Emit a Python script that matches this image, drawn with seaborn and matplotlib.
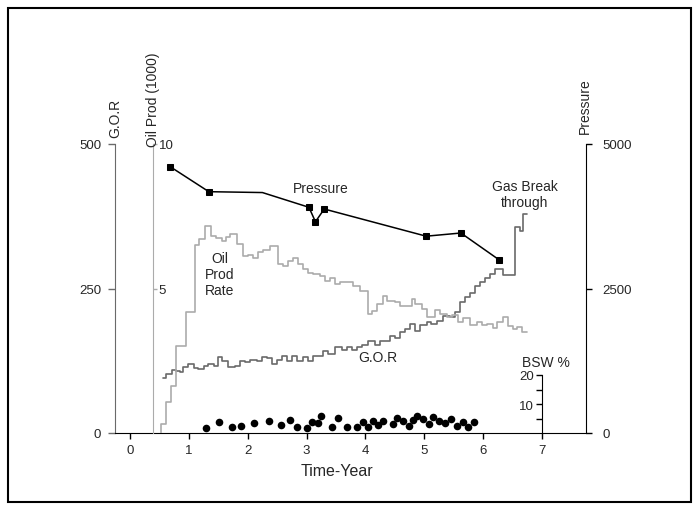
import numpy as np
import pandas as pd
import matplotlib
matplotlib.use("Agg")
import matplotlib.pyplot as plt
from matplotlib.patches import Rectangle
import seaborn as sns

# reservoir pressure (psi)
p_year = [0.68, 1.34, 2.25, 3.04, 3.15, 3.30, 5.03, 5.62, 6.27]
p_val = [4610, 4175, 4160, 3905, 3655, 3875, 3405, 3460, 2995]
p_marked = [0, 1, 3, 4, 5, 6, 7, 8]

# oil production rate (1000), step data
oil_year = [0.53, 0.53, 0.61, 0.70, 0.79, 0.95, 1.11, 1.18, 1.27, 1.37, 1.46, 1.56, 1.63,
            1.70, 1.82, 1.92, 2.01, 2.09, 2.17, 2.26, 2.38, 2.51, 2.60, 2.68, 2.77,
            2.85, 2.94, 3.02, 3.11, 3.23, 3.31, 3.40, 3.48, 3.57, 3.79, 3.90, 4.04,
            4.11, 4.20, 4.30, 4.37, 4.50, 4.58, 4.79, 4.84, 4.96, 5.04, 5.18, 5.26,
            5.38, 5.47, 5.57, 5.66, 5.77, 5.89, 5.98, 6.06, 6.16, 6.23, 6.33, 6.42,
            6.50, 6.58, 6.66, 6.74]
oil_rate = [0.0, 0.3, 1.07, 1.64, 3.0, 4.2, 6.5, 6.7, 7.17, 6.8, 6.74, 6.65, 6.77,
            6.9, 6.54, 6.11, 6.16, 6.05, 6.26, 6.34, 6.47, 5.85, 5.79, 5.96, 6.04,
            5.85, 5.67, 5.54, 5.5, 5.44, 5.27, 5.35, 5.16, 5.23, 5.1, 4.92, 4.12,
            4.23, 4.46, 4.75, 4.58, 4.52, 4.4, 4.62, 4.46, 4.29, 4.0, 4.27, 4.12,
            4.0, 4.08, 3.83, 3.97, 3.74, 3.85, 3.74, 3.77, 3.62, 3.83, 4.0, 3.71,
            3.6, 3.67, 3.48, 3.48]

# gas oil ratio, step data
gor_year = [0.57, 0.62, 0.71, 0.79, 0.85, 0.91, 0.99, 1.08, 1.16, 1.25, 1.33, 1.42,
            1.50, 1.56, 1.61, 1.67, 1.78, 1.87, 1.95, 2.04, 2.15, 2.24, 2.32, 2.41,
            2.49, 2.58, 2.66, 2.75, 2.83, 2.94, 3.03, 3.11, 3.20, 3.28, 3.37, 3.48,
            3.60, 3.68, 3.77, 3.85, 3.94, 4.05, 4.16, 4.25, 4.33, 4.41, 4.50, 4.58,
            4.67, 4.75, 4.84, 4.92, 5.04, 5.12, 5.21, 5.32, 5.43, 5.52, 5.60, 5.69,
            5.77, 5.86, 5.94, 6.03, 6.11, 6.20, 6.34, 6.54, 6.62, 6.68, 6.74]
gor_val = [95, 102, 109, 108, 106, 114, 119, 112, 111, 116, 119, 116,
           131, 125, 125, 114, 116, 125, 122, 126, 125, 131, 130, 119,
           126, 134, 125, 134, 125, 131, 125, 134, 134, 142, 137, 148,
           143, 148, 143, 148, 153, 160, 153, 160, 160, 168, 165, 174,
           180, 189, 177, 186, 192, 189, 194, 203, 201, 209, 226, 235,
           243, 255, 261, 269, 275, 283, 273, 356, 350, 379, 379]

# BSW %
bsw_year = [1.30, 1.51, 1.73, 1.89, 2.10, 2.37, 2.57, 2.72, 2.83, 3.01, 3.09, 3.20,
            3.24, 3.43, 3.54, 3.69, 3.86, 3.96, 4.05, 4.12, 4.22, 4.30, 4.46, 4.54,
            4.64, 4.74, 4.80, 4.88, 4.98, 5.08, 5.15, 5.25, 5.35, 5.45, 5.56, 5.65,
            5.74, 5.85]
bsw_pct = [1.6, 3.7, 2.0, 2.5, 3.3, 4.1, 2.9, 4.5, 2.1, 1.6, 3.8, 3.3,
           5.8, 2.1, 5.2, 2.1, 2.0, 3.7, 2.0, 4.1, 2.8, 4.0, 3.1, 5.1,
           4.0, 2.3, 4.5, 5.8, 4.8, 3.1, 5.6, 4.2, 3.3, 4.8, 2.5, 3.7,
           2.2, 3.9]

W, H = 693, 506
sns.set_style("white")
plt.rcParams['font.family'] = ['Liberation Sans', 'DejaVu Sans']

fig = plt.figure(figsize=(W / 100, H / 100), dpi=100)

def fx(x):
    return x / W

def fy(y):
    return 1 - y / H

ax = fig.add_axes([fx(115), fy(434), (586 - 115) / W, (434 - 145) / H])
ax.set_facecolor("none")
ax2 = ax.twinx()
ax3 = ax.twinx()
ax4 = ax.twinx()
for a in (ax2, ax3, ax4):
    a.set_facecolor("none")
    for s in a.spines.values():
        s.set_visible(False)

GOR_C = "#6a6a6a"
OIL_C = "#ababab"

# G.O.R
sns.lineplot(x=gor_year, y=gor_val, ax=ax, color=GOR_C, lw=1.2, drawstyle="steps-post",
             estimator=None, sort=False)
ax.set_xlim(-0.253, 7.744)
ax.set_ylim(0, 500)
ax.set_yticks([0, 250, 500])
ax.set_xticks(range(8))
ax.spines['top'].set_visible(False)
ax.spines['right'].set_visible(False)
ax.spines['left'].set_color(GOR_C)
ax.spines['bottom'].set_color("black")
ax.tick_params(axis='y', length=5, width=1, color=GOR_C, labelsize=9.5, pad=5, left=True)
ax.tick_params(axis='x', length=4, width=1, color="black", labelsize=9.5, pad=4,
               bottom=True, direction='out')
ax.set_xlabel("")
ax.set_ylabel("")

# Oil Prod (1000)
sns.lineplot(x=oil_year, y=oil_rate, ax=ax2, color=OIL_C, lw=1.2, drawstyle="steps-post",
             estimator=None, sort=False)
ax2.set_ylim(0, 10)
ax2.spines['right'].set_visible(True)
ax2.spines['right'].set_position(('axes', (153 - 115) / 471))
ax2.spines['right'].set_color(OIL_C)
ax2.yaxis.tick_right()
ax2.set_yticks([5, 10])
ax2.tick_params(axis='y', length=3, width=1, color=OIL_C, labelsize=9.5, pad=1, right=True)
ax2.set_ylabel("")

# Pressure
sns.lineplot(x=p_year, y=p_val, ax=ax3, color="black", lw=1.1, marker='s', markersize=4.8,
             markevery=p_marked, markeredgecolor="black", markerfacecolor="black")
ax3.set_ylim(0, 5000)
ax3.spines['right'].set_visible(True)
ax3.spines['right'].set_color("black")
ax3.yaxis.tick_right()
ax3.set_yticks([0, 2500, 5000])
ax3.tick_params(axis='y', length=4, width=1, color="black", labelsize=9.5, pad=8, right=True)
ax3.set_ylabel("")

# BSW %
sns.scatterplot(x=bsw_year, y=bsw_pct, ax=ax4, color="black", s=30, edgecolor="black", linewidth=0)
ax4.set_ylim(0, 20 / ((434 - 376) / 289))
ax4.spines['left'].set_visible(True)
ax4.spines['left'].set_position(('data', 7))
ax4.spines['left'].set_bounds(0, 20)
ax4.spines['left'].set_color("black")
ax4.yaxis.tick_left()
ax4.set_yticks([10, 20])
ax4.set_yticks([5, 15], minor=True)
ax4.tick_params(axis='y', which='both', length=4, width=1, color="black", labelsize=9.5, pad=2, left=True)
ax4.set_ylabel("")

# axis titles and annotations
fig.text(fx(115), fy(118), "G.O.R", rotation=90, ha='center', va='center', fontsize=10)
fig.text(fx(153), fy(100), "Oil Prod (1000)", rotation=90, ha='center', va='center', fontsize=10)
fig.text(fx(585), fy(106), "Pressure", rotation=90, ha='center', va='center', fontsize=10)
fig.text(fx(337), fy(472), "Time-Year", ha='center', va='center', fontsize=11.5)
fig.text(fx(321), fy(189), "Pressure", ha='center', va='center', fontsize=10)
fig.text(fx(220), fy(275), "Oil\nProd\nRate", ha='center', va='center', fontsize=10,
         linespacing=1.15)
fig.text(fx(378), fy(358), "G.O.R", ha='center', va='center', fontsize=10)
fig.text(fx(525), fy(195), "Gas Break\nthrough", ha='center', va='center', fontsize=10,
         linespacing=1.15)
fig.text(fx(546), fy(363), "BSW %", ha='center', va='center', fontsize=10)

# outer frame
fig.patches.append(Rectangle((fx(8), fy(503)), (691 - 8) / W, (503 - 9) / H,
                             transform=fig.transFigure, fill=False, ec="black", lw=1.5))

fig.savefig("out.png", dpi=100)
